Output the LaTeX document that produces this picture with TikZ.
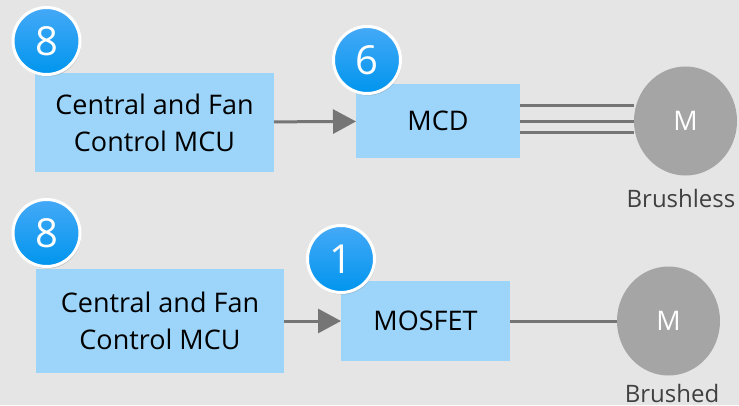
\documentclass[tikz,border=0pt]{standalone}
\usepackage{fontspec}
\setmainfont{Open Sans}
\usetikzlibrary{positioning}
\usetikzlibrary{shapes.geometric}
\usetikzlibrary{arrows.meta}
\usetikzlibrary{shadows}
\definecolor{bggray}{HTML}{E5E5E5}
\definecolor{boxblue}{HTML}{9DD5FA}
\definecolor{wiregray}{HTML}{757575}
\definecolor{motorgray}{HTML}{A5A5A5}
\definecolor{labelgray}{HTML}{404040}
\definecolor{badgetop}{HTML}{45A9F7}
\definecolor{badgemid}{HTML}{0A9EFA}
\definecolor{badgebot}{HTML}{0095EE}

\begin{document}
\begin{tikzpicture}[
        x = 1pt,
        y = -1pt,
        block/.style = {
            fill = boxblue,
            text = black,
            align = center,
            font = \fontsize{27}{37}\selectfont,
            inner sep = 0pt,
            outer sep = 0pt
        },
        motor/.style = {
            ellipse,
            fill = motorgray,
            text = white,
            font = \fontsize{27}{32}\selectfont,
            minimum width = 103pt,
            minimum height = 109pt,
            inner sep = 0pt,
            outer sep = 0pt
        },
        caption/.style = {
            text = labelgray,
            font = \fontsize{24}{28}\selectfont,
            inner sep = 0pt
        },
        badge/.style = {
            circle,
            draw = white,
            line width = 3pt,
            top color = badgetop,
            middle color = badgemid,
            bottom color = badgebot,
            text = white,
            font = \fontsize{40}{44}\selectfont,
            minimum size = 67pt,
            inner sep = 0pt,
            drop shadow = {shadow xshift=1pt, shadow yshift=-2pt, opacity=0.35}
        },
        signal/.style = {
            draw = wiregray,
            line width = 3pt,
            -{Triangle[length=23pt, width=24pt]}
        },
        wire/.style = {
            draw = wiregray,
            line width = 3pt
        }
        ]
%
        \fill[bggray] (0,0) rectangle (739,405);
        \useasboundingbox (0,0) rectangle (739,405);
%
        \node[block, minimum width=239pt, minimum height=99pt] (ctrl1) at (154.5,122.5) {Central and Fan\\Control MCU};
        \node[block, minimum width=164pt, minimum height=74pt, yshift=1.5pt] (mcd) [right=82pt of ctrl1] {MCD};
        \node[motor] (brushless) [right=114pt of mcd] {M};
        \node[caption] (brushlesstext) at (681,198) {Brushless};
%
        \node[block, minimum width=248pt, minimum height=104pt] (ctrl2) at (160,321) {Central and Fan\\Control MCU};
        \node[block, minimum width=169pt, minimum height=80pt] (mosfet) [right=57pt of ctrl2] {MOSFET};
        \node[motor] (brushed) [right=107pt of mosfet] {M};
        \node[caption] (brushedtext) at (672,393) {Brushed};
%
        \draw[signal] (ctrl1) -- (mcd);
        \draw[signal] (ctrl2) -- (mosfet);
%
        \draw[wire] ([yshift=15.3pt]mcd.east) -- ([yshift=15.3pt]mcd.east -| brushless.west);
        \draw[wire] (mcd.east) -- (brushless.west);
        \draw[wire] ([yshift=-11.7pt]mcd.east) -- ([yshift=-11.7pt]mcd.east -| brushless.west);
        \draw[wire] (mosfet) -- (brushed);
%
        \node[badge] (badge8a) at (46.5,41) {8};
        \node[badge] (badge6) at (367,60) {6};
        \node[badge] (badge8b) at (46.5,233) {8};
        \node[badge] (badge1) at (341,259) {1};
%
    \end{tikzpicture}
\end{document}
